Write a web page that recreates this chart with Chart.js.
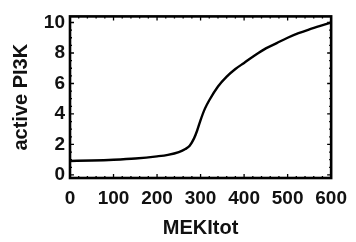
<!DOCTYPE html>
<html>
<head>
<meta charset="utf-8">
<script src="https://cdn.jsdelivr.net/npm/chart.js@4/dist/chart.umd.min.js"></script>
<style>
  html, body { margin: 0; padding: 0; background: #fff; }
  #wrap { width: 356px; height: 242px; position: relative; }
</style>
</head>
<body>
<div id="wrap"><canvas id="c"></canvas></div>
<script>
// active PI3K vs MEKItot — 응답 곡선
var mekTot = [0, 50, 100, 150, 200, 225, 250, 265, 275, 285, 292, 300, 310, 320, 340, 360, 380, 400, 425, 450, 475, 500, 525, 550, 575, 600];
var pi3k   = [0.92, 0.95, 1.0, 1.08, 1.22, 1.32, 1.5, 1.7, 1.92, 2.4, 2.9, 3.6, 4.35, 4.9, 5.8, 6.45, 6.95, 7.35, 7.85, 8.3, 8.65, 9.0, 9.3, 9.55, 9.78, 10.0];

var xTicks = [0, 100, 200, 300, 400, 500, 600];
var yTicks = [0, 2, 4, 6, 8, 10];
var xMinor = 20;
var yMinor = 0.5;

var FONT = "'Liberation Sans', Arial, sans-serif";

// 프레임 + 안쪽 눈금 (Mathematica 스타일)
var framePlugin = {
  id: 'frame',
  afterDatasetsDraw: function (chart) {
    var ctx = chart.ctx, a = chart.chartArea;
    var xs = chart.scales.x, ys = chart.scales.y;
    ctx.save();
    ctx.strokeStyle = '#000';
    ctx.lineWidth = 1.3;
    var v, p;
    for (v = xs.min; v <= xs.max + 1e-9; v += xMinor) {
      p = xs.getPixelForValue(v);
      var len = xTicks.indexOf(Math.round(v)) >= 0 ? 4 : 2;
      ctx.beginPath();
      ctx.moveTo(p, a.bottom); ctx.lineTo(p, a.bottom - len);
      ctx.moveTo(p, a.top); ctx.lineTo(p, a.top + len);
      ctx.stroke();
    }
    for (v = 0; v <= ys.max + 1e-9; v += yMinor) {
      p = ys.getPixelForValue(v);
      var lenY = yTicks.indexOf(Math.round(v * 10) / 10) >= 0 ? 4 : 2;
      ctx.beginPath();
      ctx.moveTo(a.left, p); ctx.lineTo(a.left + lenY, p);
      ctx.moveTo(a.right, p); ctx.lineTo(a.right - lenY, p);
      ctx.stroke();
    }
    ctx.lineWidth = 2.6;
    ctx.strokeRect(a.left, a.top, a.right - a.left, a.bottom - a.top);
    ctx.restore();
  }
};

new Chart(document.getElementById('c'), {
  type: 'line',
  data: {
    datasets: [{
      data: mekTot.map(function (x, i) { return { x: x, y: pi3k[i] }; }),
      borderColor: '#000',
      borderWidth: 2.4,
      pointRadius: 0,
      fill: false,
      cubicInterpolationMode: 'monotone'
    }]
  },
  options: {
    responsive: true,
    maintainAspectRatio: false,
    animation: false,
    layout: { padding: { left: 0, right: 18, top: 14, bottom: 0 } },
    plugins: { legend: { display: false }, tooltip: { enabled: false } },
    scales: {
      x: {
        type: 'linear',
        min: 0, max: 600,
        grid: { display: false, drawTicks: false },
        border: { display: false },
        afterBuildTicks: function (s) { s.ticks = xTicks.map(function (v) { return { value: v }; }); },
        afterFit: function (s) { s.height = 64; },
        ticks: { color: '#111', padding: 9, maxRotation: 0, autoSkip: false, font: { family: FONT, size: 19, weight: 'bold' } },
        title: { display: true, text: 'MEKItot', color: '#111', padding: { top: 0, bottom: 2 }, font: { family: FONT, size: 20, weight: 'bold' } }
      },
      y: {
        min: -0.2, max: 10.4,
        grid: { display: false, drawTicks: false },
        border: { display: false },
        afterBuildTicks: function (s) { s.ticks = yTicks.map(function (v) { return { value: v }; }); },
        afterFit: function (s) { s.width = 70; },
        ticks: { color: '#111', padding: 5, font: { family: FONT, size: 19, weight: 'bold' } },
        title: { display: true, text: 'active PI3K', color: '#111', padding: { top: 9, bottom: 0 }, font: { family: FONT, size: 20, weight: 'bold' } }
      }
    }
  },
  plugins: [framePlugin]
});
</script>
</body>
</html>
